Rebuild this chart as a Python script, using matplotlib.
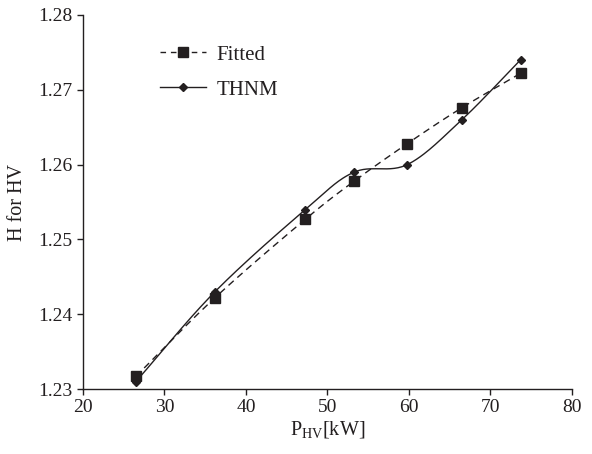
import numpy as np
import matplotlib
matplotlib.use("Agg")
import matplotlib.pyplot as plt

p_hv = [26.5, 36.2, 47.3, 53.3, 59.8, 66.5, 73.7]
fitted = [1.2317, 1.2422, 1.2527, 1.2578, 1.2628, 1.2676, 1.2722]
thnm = [1.2310, 1.2430, 1.2540, 1.2590, 1.2600, 1.2660, 1.2740]
x_ticks = [20, 30, 40, 50, 60, 70, 80]
y_ticks = [1.23, 1.24, 1.25, 1.26, 1.27, 1.28]


def smooth(x, y, n=30, tension=0.5):
    """Catmull-Rom style smoothing similar to spreadsheet smoothed lines."""
    x = np.asarray(x, float)
    y = np.asarray(y, float)
    px = np.concatenate([[2 * x[0] - x[1]], x, [2 * x[-1] - x[-2]]])
    py = np.concatenate([[2 * y[0] - y[1]], y, [2 * y[-1] - y[-2]]])
    xs, ys = [], []
    for i in range(1, len(px) - 2):
        p0 = np.array([px[i - 1], py[i - 1]])
        p1 = np.array([px[i], py[i]])
        p2 = np.array([px[i + 1], py[i + 1]])
        p3 = np.array([px[i + 2], py[i + 2]])
        c1 = p1 + (p2 - p0) * tension / 3
        c2 = p2 - (p3 - p1) * tension / 3
        t = np.linspace(0, 1, n)[:, None]
        b = ((1 - t) ** 3) * p1 + 3 * ((1 - t) ** 2) * t * c1 + 3 * (1 - t) * t ** 2 * c2 + t ** 3 * p2
        xs.append(b[:, 0])
        ys.append(b[:, 1])
    return np.concatenate(xs), np.concatenate(ys)


plt.rcParams['font.family'] = ['Liberation Serif', 'DejaVu Serif']
col = '#231f20'

fig = plt.figure(figsize=(5.92, 4.54), dpi=100)
ax = fig.add_axes([0.140, 0.143, 0.826, 0.824])

fx, fy = smooth(p_hv, fitted)
tx, ty = smooth(p_hv, thnm)

ax.plot(fx, fy, color=col, lw=1.0, ls=(0, (5, 3.5)))
ax.plot(p_hv, fitted, ls='none', marker='s', ms=7, color=col)
ax.plot(tx, ty, color=col, lw=1.0)
ax.plot(p_hv, thnm, ls='none', marker='D', ms=4.5, color=col)

# legend handles
h1, = ax.plot([], [], color=col, lw=1.0, ls=(0, (4, 3.5)), marker='s', ms=7)
h2, = ax.plot([], [], color=col, lw=1.0, marker='D', ms=4.5)
leg = ax.legend([h1, h2], ['Fitted', 'THNM'], loc='upper left',
                bbox_to_anchor=(0.12, 0.97), frameon=False, fontsize=15,
                handlelength=2.2, labelspacing=0.75, handletextpad=0.5)
for t in leg.get_texts():
    t.set_color(col)

ax.set_xlim(20, 80)
ax.set_ylim(1.23, 1.28)
ax.set_xticks(x_ticks)
ax.set_yticks(y_ticks)
ax.set_yticklabels([f'{v:.2f}' for v in y_ticks])
ax.spines['top'].set_visible(False)
ax.spines['right'].set_visible(False)
for s in ['left', 'bottom']:
    ax.spines[s].set_color(col)
    ax.spines[s].set_linewidth(1.0)
ax.tick_params(direction='out', length=4, width=1.0, colors=col, labelsize=14, labelcolor=col)

ax.set_xlabel(r'P$_{\mathregular{HV}}$[kW]', fontsize=14.5, color=col, labelpad=2)
ax.set_ylabel('H for HV', fontsize=14.5, color=col, labelpad=8)

fig.savefig('out.png', dpi=100)
